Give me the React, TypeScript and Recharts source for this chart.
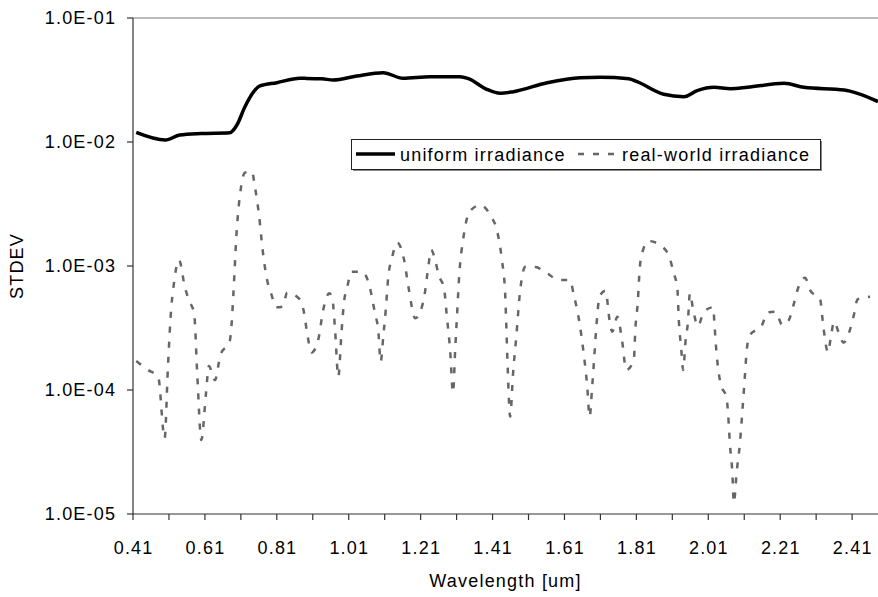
import React from 'react';
import { LineChart, Line, XAxis, YAxis, ReferenceLine, Legend, Label } from 'recharts';

const FONT = '"Liberation Sans", Arial, Helvetica, sans-serif';
const FS = 18;
const LS = 1.2;

// Wavelength [um] and STDEV for the uniform irradiance series
const uniformWl = [0.419, 0.5, 0.54, 0.6, 0.679, 0.699, 0.721, 0.743, 0.763, 0.81, 0.874, 0.888, 0.935, 0.967, 1.032, 1.106, 1.161, 1.236, 1.32, 1.343, 1.394, 1.431, 1.468, 1.562, 1.654, 1.71, 1.789, 1.812, 1.886, 1.942, 1.979, 2.026, 2.072, 2.119, 2.221, 2.276, 2.388, 2.425, 2.482];
const uniformStdev = [0.01197, 0.01038, 0.01138, 0.0117, 0.01188, 0.01371, 0.01914, 0.02482, 0.02831, 0.03008, 0.03263, 0.0326, 0.03238, 0.0316, 0.03403, 0.0362, 0.03265, 0.03365, 0.03365, 0.0324, 0.0266, 0.0247, 0.02547, 0.03008, 0.03304, 0.0333, 0.0324, 0.03062, 0.02425, 0.02319, 0.02595, 0.02762, 0.0269, 0.02762, 0.02972, 0.02762, 0.02625, 0.0247, 0.0212];

// Wavelength [um] and STDEV for the real-world irradiance series
const realWl = [0.419, 0.452, 0.48, 0.498, 0.507, 0.517, 0.521, 0.538, 0.554, 0.566, 0.58, 0.589, 0.6, 0.613, 0.621, 0.638, 0.653, 0.679, 0.684, 0.689, 0.698, 0.71, 0.721, 0.741, 0.749, 0.761, 0.77, 0.782, 0.794, 0.809, 0.826, 0.839, 0.874, 0.886, 0.893, 0.907, 0.925, 0.939, 0.956, 0.965, 0.972, 0.981, 0.99, 0.997, 1.006, 1.018, 1.046, 1.067, 1.083, 1.092, 1.099, 1.106, 1.113, 1.12, 1.13, 1.145, 1.164, 1.176, 1.195, 1.209, 1.22, 1.232, 1.239, 1.25, 1.26, 1.275, 1.283, 1.292, 1.3, 1.306, 1.311, 1.318, 1.328, 1.346, 1.376, 1.406, 1.422, 1.436, 1.445, 1.448, 1.452, 1.459, 1.467, 1.476, 1.485, 1.501, 1.529, 1.562, 1.594, 1.625, 1.636, 1.652, 1.664, 1.673, 1.68, 1.687, 1.693, 1.699, 1.708, 1.724, 1.736, 1.743, 1.757, 1.77, 1.782, 1.803, 1.807, 1.814, 1.819, 1.826, 1.844, 1.882, 1.903, 1.914, 1.924, 1.928, 1.935, 1.94, 1.947, 1.953, 1.959, 1.968, 1.981, 1.998, 2.024, 2.027, 2.033, 2.044, 2.061, 2.065, 2.07, 2.077, 2.081, 2.089, 2.098, 2.105, 2.111, 2.117, 2.126, 2.158, 2.176, 2.197, 2.216, 2.234, 2.247, 2.258, 2.279, 2.293, 2.321, 2.33, 2.343, 2.351, 2.36, 2.372, 2.386, 2.404, 2.416, 2.425, 2.46];
const realStdev = [1.71e-4, 1.45e-4, 1.28e-4, 4.07e-5, 1.5e-4, 4.84e-4, 6.21e-4, 1.12e-3, 6.81e-4, 5.25e-4, 4.16e-4, 1.28e-4, 3.95e-5, 9.4e-5, 1.56e-4, 1.2e-4, 1.91e-4, 2.48e-4, 3.34e-4, 5.83e-4, 1.84e-3, 4.23e-3, 5.65e-3, 5.76e-3, 4.36e-3, 2.5e-3, 1.39e-3, 7.96e-4, 6.03e-4, 4.65e-4, 4.7e-4, 6.09e-4, 5.38e-4, 4.16e-4, 3.05e-4, 2.01e-4, 2.53e-4, 4.42e-4, 6.03e-4, 5.32e-4, 3.05e-4, 1.28e-4, 2.95e-4, 5.15e-4, 6.81e-4, 9.0e-4, 9.0e-4, 7.03e-4, 4.16e-4, 3.05e-4, 1.69e-4, 2.69e-4, 4.42e-4, 8.2e-4, 1.15e-3, 1.54e-3, 1.12e-3, 6.81e-4, 3.79e-4, 4.28e-4, 5.65e-4, 1.02e-3, 1.35e-3, 1.13e-3, 8.46e-4, 6.61e-4, 3.9e-4, 2.1e-4, 9.51e-5, 2.1e-4, 3.9e-4, 9.0e-4, 1.62e-3, 2.74e-3, 3.1e-3, 2.5e-3, 1.95e-3, 1.12e-3, 6.03e-4, 3.45e-4, 1.54e-4, 6.09e-5, 1.36e-4, 2.69e-4, 5.65e-4, 9.87e-4, 9.8e-4, 8.73e-4, 7.71e-4, 7.71e-4, 5.83e-4, 3.45e-4, 1.91e-4, 1.1e-4, 6.09e-5, 1.06e-4, 1.86e-4, 3.34e-4, 5.73e-4, 6.32e-4, 3.56e-4, 2.95e-4, 3.9e-4, 2.53e-4, 1.45e-4, 1.75e-4, 3.05e-4, 5.15e-4, 9.29e-4, 1.27e-3, 1.59e-3, 1.43e-3, 1.15e-3, 8.73e-4, 6.61e-4, 3.67e-4, 2.1e-4, 1.45e-4, 2.53e-4, 3.45e-4, 6.03e-4, 4.42e-4, 3.28e-4, 4.28e-4, 4.65e-4, 3.45e-4, 1.98e-4, 1.13e-4, 8.57e-5, 6.48e-5, 3.72e-5, 2.13e-5, 1.23e-5, 2.19e-5, 3.72e-5, 6.9e-5, 1.2e-4, 2.1e-4, 2.78e-4, 3.28e-4, 4.23e-4, 4.28e-4, 3.34e-4, 3.67e-4, 4.84e-4, 6.4e-4, 8.05e-4, 6.4e-4, 5.38e-4, 3.24e-4, 2.01e-4, 2.69e-4, 3.56e-4, 2.95e-4, 2.41e-4, 3.05e-4, 4.16e-4, 5.38e-4, 5.65e-4];

const xTicks = [0.41, 0.51, 0.61, 0.71, 0.81, 0.91, 1.01, 1.11, 1.21, 1.31, 1.41, 1.51, 1.61, 1.71, 1.81, 1.91, 2.01, 2.11, 2.21, 2.31, 2.41];
const xTickLabels = ['0.41', '0.61', '0.81', '1.01', '1.21', '1.41', '1.61', '1.81', '2.01', '2.21', '2.41'];
const yTicks = [1e-5, 1e-4, 1e-3, 1e-2, 1e-1];
const yTickLabels = ['1.0E-05', '1.0E-04', '1.0E-03', '1.0E-02', '1.0E-01'];

const seriesNames = ['uniform irradiance', 'real-world irradiance'];
const xTitle = 'Wavelength [um]';
const yTitle = 'STDEV';

const uniformData = uniformWl.map((w, i) => ({ w, v: uniformStdev[i] }));
const realData = realWl.map((w, i) => ({ w, v: realStdev[i] }));

const textStyle = { fontFamily: FONT, fontSize: FS, letterSpacing: LS, fill: '#000' };

const XTick = (props: any) => {
  const { x, y, payload } = props;
  const s = payload.value.toFixed(2);
  if (!xTickLabels.includes(s)) return null;
  return (
    <text x={x + LS / 2} y={y} dy="0.72em" textAnchor="middle" style={textStyle}>
      {s}
    </text>
  );
};

const YTick = (props: any) => {
  const { x, y, payload } = props;
  const idx = yTicks.findIndex((t) => Math.abs(Math.log10(t) - Math.log10(payload.value)) < 1e-6);
  return (
    <text x={x + LS} y={y} dy="0.36em" textAnchor="end" style={textStyle}>
      {idx >= 0 ? yTickLabels[idx] : ''}
    </text>
  );
};

const LegendBox = () => (
  <svg width={472} height={33} style={{ display: 'block' }}>
    <rect x={2} y={2} width={469} height={30} fill="#888" />
    <rect x={0.5} y={0.5} width={469} height={30} fill="#fff" stroke="#222" strokeWidth={1} />
    <line x1={5} x2={44} y1={15} y2={15} stroke="#000" strokeWidth={3.5} />
    <text x={49} y={22} style={textStyle}>{seriesNames[0]}</text>
    <line x1={227} x2={268} y1={15} y2={15} stroke="#666" strokeWidth={2.5} strokeDasharray="6 9" />
    <text x={271} y={22} style={textStyle}>{seriesNames[1]}</text>
  </svg>
);

export default function App() {
  return (
    <div style={{ position: 'absolute', left: 0, top: 0, width: 878, height: 597, background: '#fff' }}>
      <LineChart width={878} height={597} margin={{ top: 18, right: 0, bottom: 0, left: 0 }}>
        <XAxis
          dataKey="w"
          type="number"
          domain={[0.41, 2.482]}
          ticks={xTicks}
          interval={0}
          allowDataOverflow
          height={83}
          tickSize={6}
          tickMargin={21}
          tick={<XTick />}
          axisLine={{ stroke: '#333', strokeWidth: 1.2 }}
          tickLine={{ stroke: '#333', strokeWidth: 1.2 }}
        >
          <Label
            content={(p: any) => {
              const vb = p.viewBox;
              return (
                <text x={vb.x + vb.width / 2} y={vb.y + 73} textAnchor="middle" style={textStyle}>
                  {xTitle}
                </text>
              );
            }}
          />
        </XAxis>
        <YAxis
          dataKey="v"
          scale="log"
          domain={[1e-5, 1e-1]}
          ticks={yTicks}
          interval={0}
          allowDataOverflow
          width={133}
          tickSize={6}
          tickMargin={12}
          tick={<YTick />}
          axisLine={{ stroke: '#333', strokeWidth: 1.2 }}
          tickLine={{ stroke: '#333', strokeWidth: 1.2 }}
        >
          <Label
            content={(p: any) => {
              const vb = p.viewBox;
              const cy = vb.y + vb.height / 2;
              return (
                <text x={17} y={cy} transform={`rotate(-90 17 ${cy})`} dy="0.36em" textAnchor="middle" style={textStyle}>
                  {yTitle}
                </text>
              );
            }}
          />
        </YAxis>
        <ReferenceLine y={1e-1} stroke="#a6a6a6" strokeWidth={1.5} />
        <Legend
          layout="horizontal"
          verticalAlign="middle"
          align="center"
          content={() => <LegendBox />}
          wrapperStyle={{ position: 'absolute', left: 351, top: 139, width: 472, height: 33 }}
        />
        <Line
          data={uniformData}
          dataKey="v"
          type="monotone"
          stroke="#000"
          strokeWidth={3.5}
          dot={false}
          activeDot={false}
          isAnimationActive={false}
          name={seriesNames[0]}
        />
        <Line
          data={realData}
          dataKey="v"
          type="monotone"
          stroke="#666"
          strokeWidth={2.5}
          strokeDasharray="6 9"
          dot={false}
          activeDot={false}
          isAnimationActive={false}
          name={seriesNames[1]}
        />
      </LineChart>
    </div>
  );
}
